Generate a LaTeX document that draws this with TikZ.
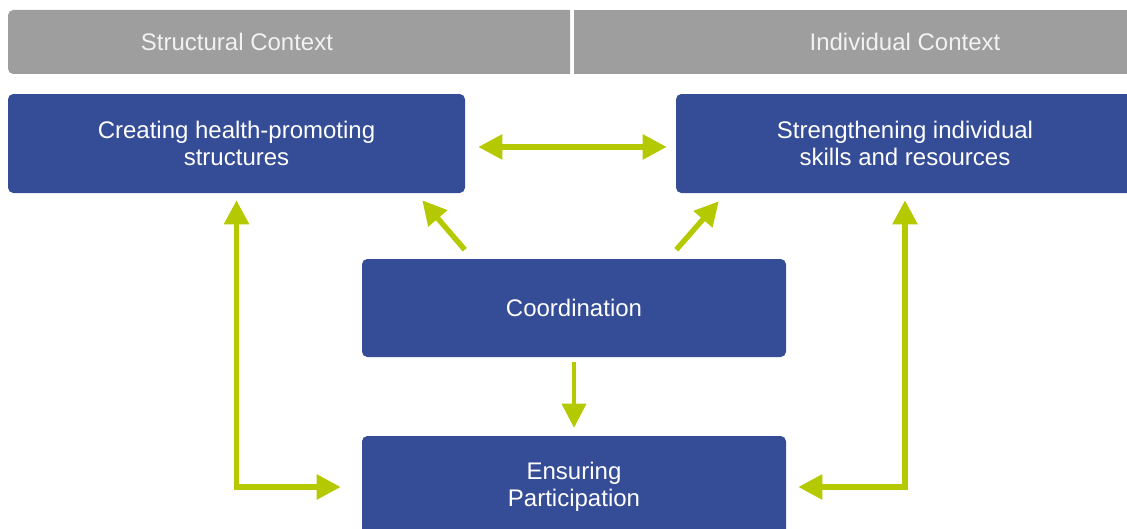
\documentclass[tikz,border=0pt]{standalone}
\usepackage{fontspec}
\setmainfont{Liberation Sans}
\usetikzlibrary{arrows.meta,calc}
\definecolor{boxblue}{RGB}{53,76,150}
\definecolor{linkgreen}{RGB}{181,201,0}
\definecolor{bargray}{RGB}{158,158,158}
\begin{document}
\begin{tikzpicture}[x=0.75pt, y=-0.75pt,
    box/.style = {rectangle, rounded corners=4pt, fill=boxblue, text=white, align=center, inner sep=0pt, font=\fontsize{18}{20}\selectfont},
    head/.style = {text=white!95!black, font=\fontsize{18}{20}\selectfont},
    link/.style = {draw=linkgreen, line width=4pt},
    >={Triangle[length=18pt, width=18pt]}]
    \useasboundingbox (0,0) rectangle (1127,528);
    \clip (0,0) rectangle (1127,528);

    \fill[bargray] (570,10) {[rounded corners=4pt] -- (8,10) -- (8,74)} -- (570,74) -- cycle;
    \fill[bargray] (574,10) rectangle (1140,74);
    \node[head] (sc) at (237,42) {Structural Context};
    \node[head] (ic) at (905,42) {Individual Context};

    \node[box, minimum width=342.75pt, minimum height=74.25pt] (struct) at (236.5,143.5) {Creating health-promoting\\structures};
    \node[box, minimum width=343.5pt, minimum height=74.25pt] (indiv) at (905,143.5) {Strengthening individual\\skills and resources};
    \node[box, minimum width=318pt, minimum height=73.5pt] (coord) at (574,308) {Coordination};
    \node[box, minimum width=318pt, minimum height=76.5pt] (part) at (574,487) {Ensuring\\Participation};

    \draw[link, <->] ([xshift=9.75pt, yshift=-2.6pt]struct.east) -- ([xshift=-6.75pt, yshift=-2.6pt]indiv.west);
    \draw[link, ->] ($(coord.north west)+(103,-9)$) -- ($(struct.south east)+(-43,7)$);
    \draw[link, ->] ($(coord.north east)+(-110,-9)$) -- ($(indiv.south west)+(43,8)$);
    \draw[link, <->] ([yshift=-5.25pt]struct.south) |- ([xshift=-15.75pt]part.west);
    \draw[link, <->] ([yshift=-5.25pt]indiv.south) |- ([xshift=9pt]part.east);
    \draw[link, ->, line width=2.6pt] ([yshift=-3.75pt]coord.south) -- ([yshift=6pt]part.north);
\end{tikzpicture}
\end{document}
